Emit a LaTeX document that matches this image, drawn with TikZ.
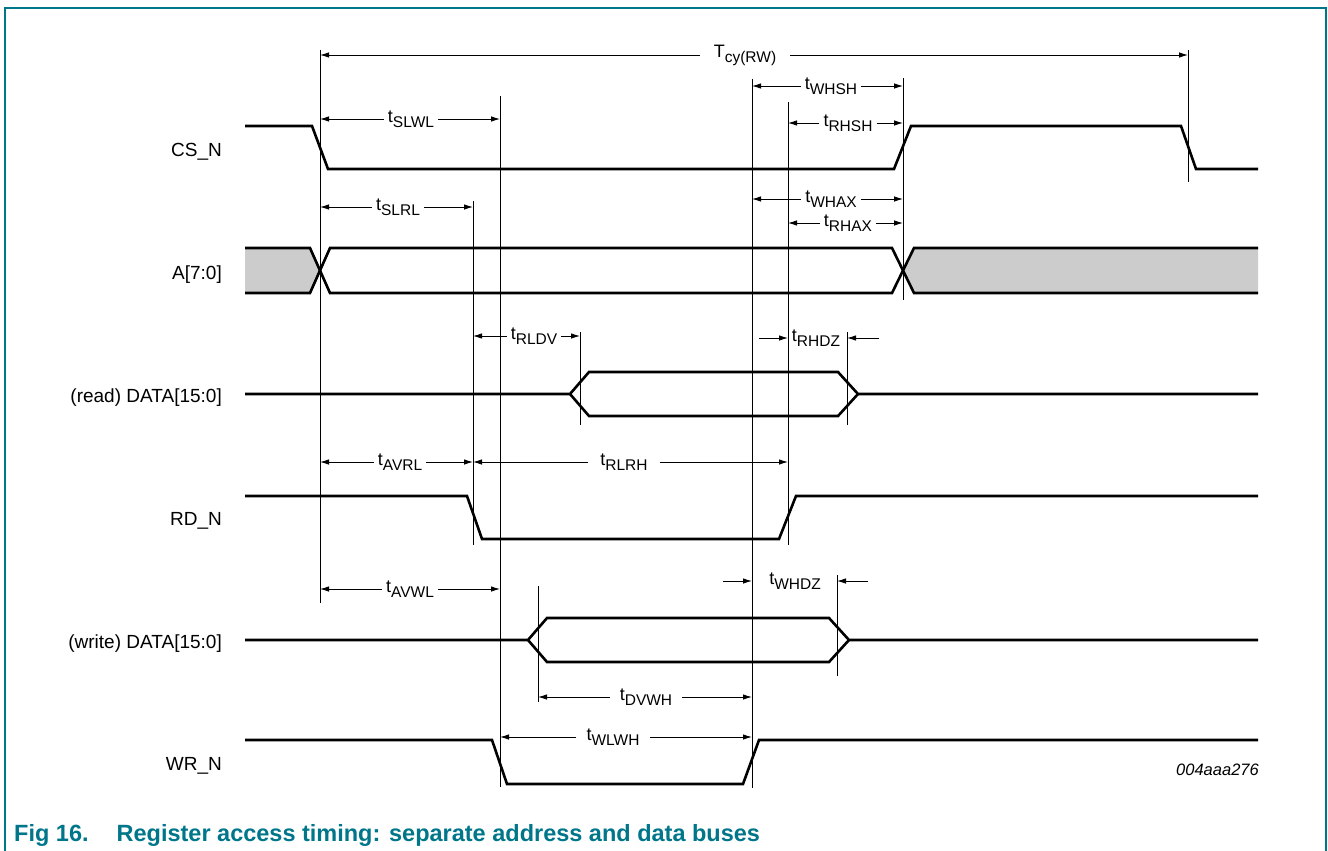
\documentclass[tikz,border=0pt]{standalone}
\usepackage{fontspec}
\setmainfont{Liberation Sans}
\usetikzlibrary{arrows.meta}
\definecolor{nxp}{RGB}{0,118,138}
\definecolor{busgray}{RGB}{204,204,204}
\newcommand\tsym[2]{\fontsize{18}{18}\selectfont #1\raisebox{-5pt}{\fontsize{15.5}{15.5}\selectfont #2}}
\begin{document}
\begin{tikzpicture}[x=1pt,y=-1pt,
  sig/.style={line width=2.6pt, line join=miter},
  guide/.style={line width=0.9pt},
  dim/.style={line width=0.9pt,-{Latex[length=9pt,width=5.5pt]}},
  tlab/.style={inner xsep=4pt, inner ysep=0pt},
  siglab/.style={anchor=base east, font=\fontsize{19}{19}\selectfont, inner sep=0pt}]

\useasboundingbox (0,0) rectangle (1328,851);

% frame
\draw[nxp, line width=2pt] (5,851) -- (5,8) -- (1326,8) -- (1326,851);

% signal labels
\node[siglab] (lcs) at (222,156) {CS\_N};
\node[siglab] (la) at (222,279) {A[7:0]};
\node[siglab] (lrd) at (222,402) {(read) DATA[15:0]};
\node[siglab] (lrdn) at (222,525) {RD\_N};
\node[siglab] (lwd) at (222,648) {(write) DATA[15:0]};
\node[siglab] (lwrn) at (222,770) {WR\_N};

% guide lines
\draw[guide] (320,50) -- (320,603);
\draw[guide] (500,96) -- (500,787);
\draw[guide] (473,201) -- (473,545);
\draw[guide] (752,79) -- (752,788);
\draw[guide] (788,102) -- (788,545);
\draw[guide] (903,78) -- (903,300);
\draw[guide] (1188,50) -- (1188,182);
\draw[guide] (580,332) -- (580,425);
\draw[guide] (847,332) -- (847,425);
\draw[guide] (538,586) -- (538,702);
\draw[guide] (837,575) -- (837,676);

% gray fills of A bus
\fill[busgray] (245,248) -- (310,248) -- (320,270.5) -- (310,293) -- (245,293) -- cycle;
\fill[busgray] (903,270.5) -- (914,248) -- (1258,248) -- (1258,293) -- (914,293) -- cycle;

% signals
\draw[sig] (245,126) -- (312,126) -- (328,169) -- (894,169) -- (911,126) -- (1181,126) -- (1196,169) -- (1258,169);
\draw[sig] (245,248) -- (310,248) -- (330,293) -- (892,293) -- (914,248) -- (1258,248);
\draw[sig] (245,293) -- (310,293) -- (330,248) -- (892,248) -- (914,293) -- (1258,293);
\draw[sig] (245,394) -- (570,394) -- (589,372) -- (838,372) -- (858,394) -- (1258,394);
\draw[sig] (570,394) -- (589,416) -- (838,416) -- (858,394);
\draw[sig] (245,496) -- (467,496) -- (482,539) -- (779,539) -- (796,496) -- (1258,496);
\draw[sig] (245,640) -- (528,640) -- (547,618) -- (829,618) -- (849,640) -- (1258,640);
\draw[sig] (528,640) -- (547,662) -- (829,662) -- (849,640);
\draw[sig] (245,740) -- (492,740) -- (507,784) -- (743,784) -- (759,740) -- (1258,740);

% timing labels and arrows
\node[tlab, inner xsep=14pt] (tcy) at (745,55) {\tsym{T}{cy(RW)}};
\draw[dim] (tcy.west) -- (320,55);
\draw[dim] (tcy.east) -- (1188,55);

\node[tlab] (slwl) at (411,119) {\tsym{t}{SLWL}};
\draw[dim] (slwl.west) -- (320,119);
\draw[dim] (slwl.east) -- (500,119);

\node[tlab] (slrl) at (398,207) {\tsym{t}{SLRL}};
\draw[dim] (slrl.west) -- (320,207);
\draw[dim] (slrl.east) -- (473,207);

\node[tlab] (whsh) at (831,86) {\tsym{t}{WHSH}};
\draw[dim] (whsh.west) -- (752,86);
\draw[dim] (whsh.east) -- (903,86);

\node[tlab] (rhsh) at (848,123) {\tsym{t}{RHSH}};
\draw[dim] (rhsh.west) -- (788,123);
\draw[dim] (rhsh.east) -- (903,123);

\node[tlab] (whax) at (831,199) {\tsym{t}{WHAX}};
\draw[dim] (whax.west) -- (752,199);
\draw[dim] (whax.east) -- (903,199);

\node[tlab] (rhax) at (848,223) {\tsym{t}{RHAX}};
\draw[dim] (rhax.west) -- (788,223);
\draw[dim] (rhax.east) -- (903,223);

\node[tlab] (rldv) at (534,336) {\tsym{t}{RLDV}};
\draw[dim] (rldv.west) -- (473,336);
\draw[dim] (rldv.east) -- (580,336);

\node[tlab] (rhdz) at (816,338) {\tsym{t}{RHDZ}};
\coordinate (rhdzL) at (759,338);
\coordinate (rhdzR) at (879,338);
\draw[dim] (rhdzL) -- (788,338);
\draw[dim] (rhdzR) -- (847,338);

\node[tlab] (avrl) at (400,462) {\tsym{t}{AVRL}};
\draw[dim] (avrl.west) -- (320,462);
\draw[dim] (avrl.east) -- (473,462);

\node[tlab, inner xsep=12pt] (rlrh) at (624,462) {\tsym{t}{RLRH}};
\draw[dim] (rlrh.west) -- (473,462);
\draw[dim] (rlrh.east) -- (788,462);

\node[tlab] (avwl) at (410,589) {\tsym{t}{AVWL}};
\draw[dim] (avwl.west) -- (320,589);
\draw[dim] (avwl.east) -- (500,589);

\node[tlab] (whdz) at (795,581) {\tsym{t}{WHDZ}};
\coordinate (whdzL) at (723,581);
\coordinate (whdzR) at (868,581);
\draw[dim] (whdzL) -- (752,581);
\draw[dim] (whdzR) -- (837,581);

\node[tlab, inner xsep=10pt] (dvwh) at (646,697) {\tsym{t}{DVWH}};
\draw[dim] (dvwh.west) -- (538,697);
\draw[dim] (dvwh.east) -- (752,697);

\node[tlab, inner xsep=10pt] (wlwh) at (613,737) {\tsym{t}{WLWH}};
\draw[dim] (wlwh.west) -- (500,737);
\draw[dim] (wlwh.east) -- (752,737);

% drawing code
\node[anchor=base east, font=\fontsize{16.5}{16.5}\selectfont\itshape, inner sep=0pt] (code) at (1259,775) {004aaa276};

% caption
\node[anchor=base west, text=nxp, font=\fontsize{23.5}{23.5}\selectfont\bfseries, inner sep=0pt] (cap) at (14,841) {Fig 16.\hspace{28pt}Register access timing: separate address and data buses};
\end{tikzpicture}
\end{document}
